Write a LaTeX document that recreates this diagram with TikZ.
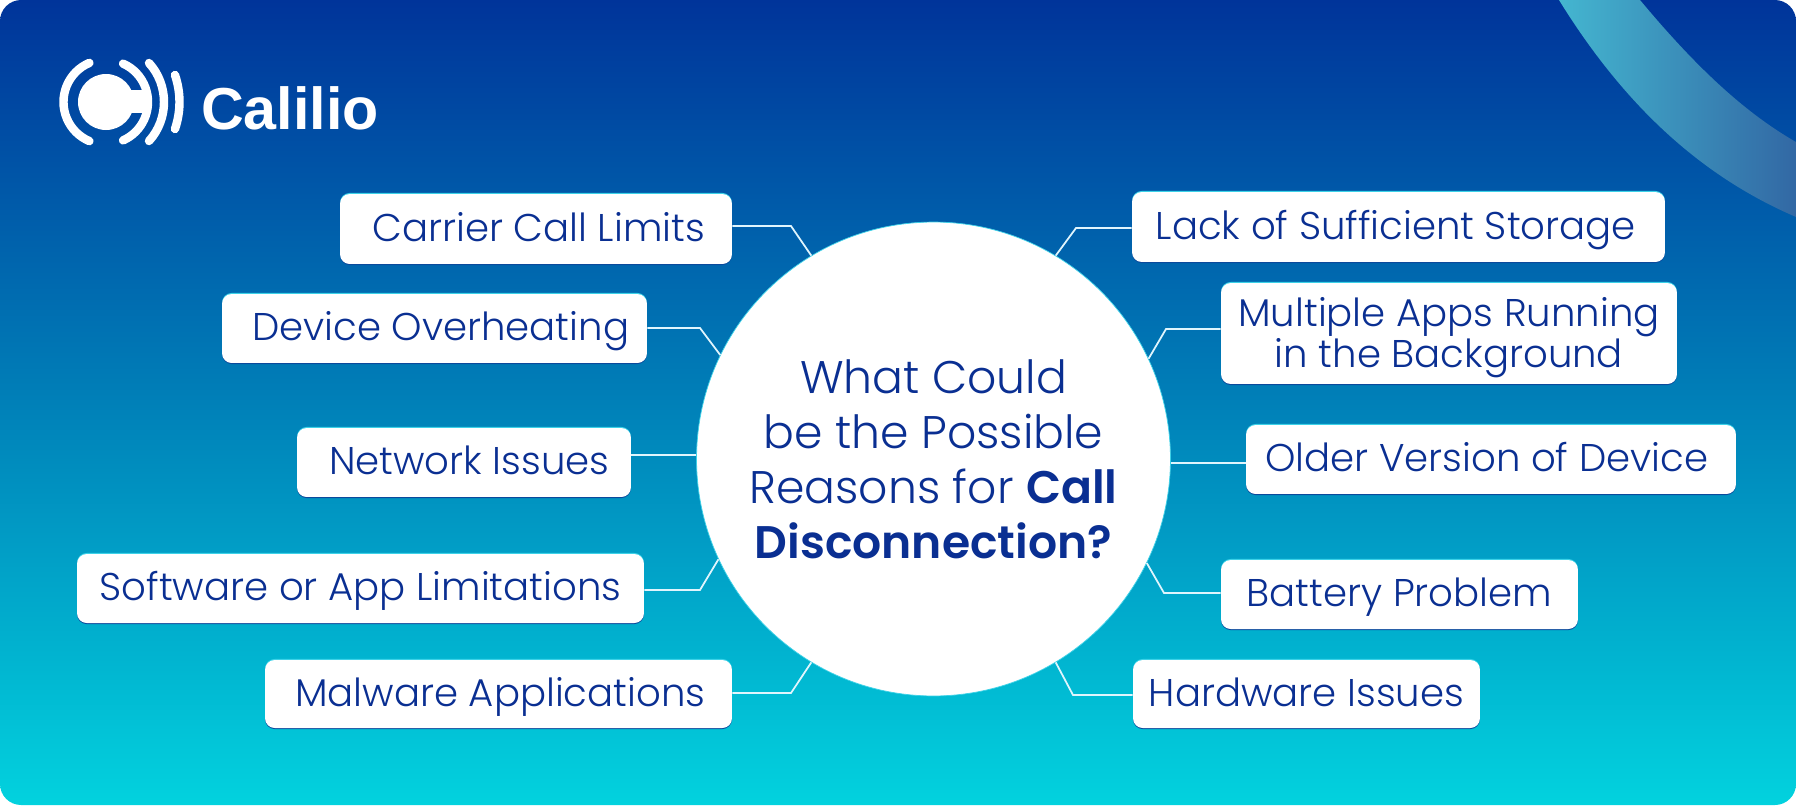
\documentclass[tikz,border=0pt]{standalone}
\usepackage{fontspec}
\setmainfont{Poppins}[UprightFont=* Light, BoldFont=* SemiBold]
\newfontfamily\logofont{Liberation Sans}
\usetikzlibrary{positioning,shadows}

\definecolor{navytop}{HTML}{00349A}
\definecolor{midblue}{HTML}{0080B8}
\definecolor{cyanend}{HTML}{02D2DE}
\definecolor{inktext}{HTML}{0A2F92}
\definecolor{edgecyan}{HTML}{3CD2E8}
\definecolor{edgenavy}{HTML}{0B4A9C}
\definecolor{bandleft}{HTML}{44B6D0}
\definecolor{bandright}{HTML}{3268A4}

\tikzset{
    reasonbox/.style={fill=white, rounded corners=5.5pt, text=inktext, align=center, inner sep=0pt, font=\fontsize{22}{23.5}\selectfont,
        general shadow={shadow yshift=0.6pt, fill=edgecyan}, general shadow={shadow yshift=-0.6pt, fill=edgenavy}},
    oneline/.style={reasonbox, text height=14pt, text depth=0pt},
    link/.style={draw=white!88!cyan, line width=1pt},
    logoarc/.style={draw=white, line width=4.8pt, line cap=round},
}

\begin{document}
\begin{tikzpicture}[x=0.02cm, y=-0.02cm]
    \useasboundingbox (0,0) rectangle (1796,805);

    % Draw the background panel
    \path[rounded corners=12pt, top color=navytop, bottom color=cyanend, middle color=midblue] (0,0) rectangle (1796,805);

    % Draw the band in the top right corner
    \path[left color=bandleft, right color=bandright] (1559,0) .. controls (1630,115) and (1710,180) .. (1796,217) -- (1796,142) .. controls (1740,110) and (1690,60) .. (1640,0) -- cycle;

    % Draw the logo
    \begin{scope}[shift={(106,102)}, y=0.02cm]
        \fill[white] (0,0) circle (28);
        \fill[white] (0,12) rectangle (44,-11);
        \draw[logoarc] (113:42.5) arc (113:247:42.5);
        \draw[logoarc] (66:42) arc (66:-66:42);
        \draw[logoarc] (43,39) .. controls (63,17) and (63,-17) .. (43,-39);
        \draw[logoarc] (69,27) .. controls (75,9) and (75,-9) .. (69,-27);
    \end{scope}
    \node[text=white, font=\logofont\bfseries\fontsize{33.7}{40}\selectfont, anchor=west] (brand) at (195,108) {Calilio};

    % Draw the circle in the middle
    \node[circle, fill=white, draw=edgecyan, line width=0.4pt, minimum size=9.48cm, inner sep=0pt, text=inktext, align=center, font=\fontsize{26}{31.3}\selectfont] (hub) at (933.5,459)
        {What Could\\be the Possible\\Reasons for \textbf{Call}\\\textbf{Disconnection?}};

    % Draw the boxes on the left
    \node[oneline, minimum width=7.84cm, minimum height=1.4cm] (carrier) at (536,229) {\hspace*{3pt}Carrier Call Limits};
    \node[oneline, minimum width=8.5cm, minimum height=1.38cm] (device) at (434.5,328.5) {\hspace*{7pt}Device Overheating};
    \node[oneline, minimum width=6.68cm, minimum height=1.38cm] (network) at (464,462.5) {\hspace*{6pt}Network Issues};
    \node[oneline, minimum width=11.34cm, minimum height=1.38cm] (software) at (360.5,588.5) {Software or App Limitations};
    \node[oneline, minimum width=9.34cm, minimum height=1.36cm] (malware) at (498.5,694) {\hspace*{2pt}Malware Applications};

    % Draw the boxes on the right
    \node[oneline, minimum width=10.66cm, minimum height=1.4cm] (storage) at (1398.5,227) {Lack of Sufficient Storage\hspace*{3pt}};
    \node[reasonbox, minimum width=9.12cm, minimum height=2.02cm] (apps) at (1449,333.5) {\rule{0pt}{21pt}Multiple Apps Running\\in the Background};
    \node[oneline, minimum width=9.8cm, minimum height=1.38cm] (version) at (1491,459.5) {Older Version of Device\hspace*{5pt}};
    \node[oneline, minimum width=7.14cm, minimum height=1.38cm] (battery) at (1399.5,594.5) {Battery Problem};
    \node[oneline, minimum width=6.94cm, minimum height=1.36cm] (hardware) at (1306.5,694) {Hardware Issues};

    % Draw the bends of the wires
    \coordinate (carrierbend) at (791,226);
    \coordinate (devicebend) at (700,328);
    \coordinate (softwarebend) at (700,590);
    \coordinate (malwarebend) at (791,693);
    \coordinate (storagebend) at (1076,228);
    \coordinate (appsbend) at (1166,329);
    \coordinate (batterybend) at (1164,593);
    \coordinate (hardwarebend) at (1073,695);

    % Draw the wires
    \draw[link] (carrier.east |- carrierbend) -- (carrierbend) -- (hub.121);
    \draw[link] (device.east |- devicebend) -- (devicebend) -- (hub.154);
    \draw[link] (network.east |- hub.179) -- (hub.179);
    \draw[link] (software.east |- softwarebend) -- (softwarebend) -- (hub.205);
    \draw[link] (malware.east |- malwarebend) -- (malwarebend) -- (hub.239);
    \draw[link] (storage.west |- storagebend) -- (storagebend) -- (hub.59);
    \draw[link] (apps.west |- appsbend) -- (appsbend) -- (hub.25);
    \draw[link] (version.west |- hub.359) -- (hub.359);
    \draw[link] (battery.west |- batterybend) -- (batterybend) -- (hub.334);
    \draw[link] (hardware.west |- hardwarebend) -- (hardwarebend) -- (hub.301);
\end{tikzpicture}
\end{document}
